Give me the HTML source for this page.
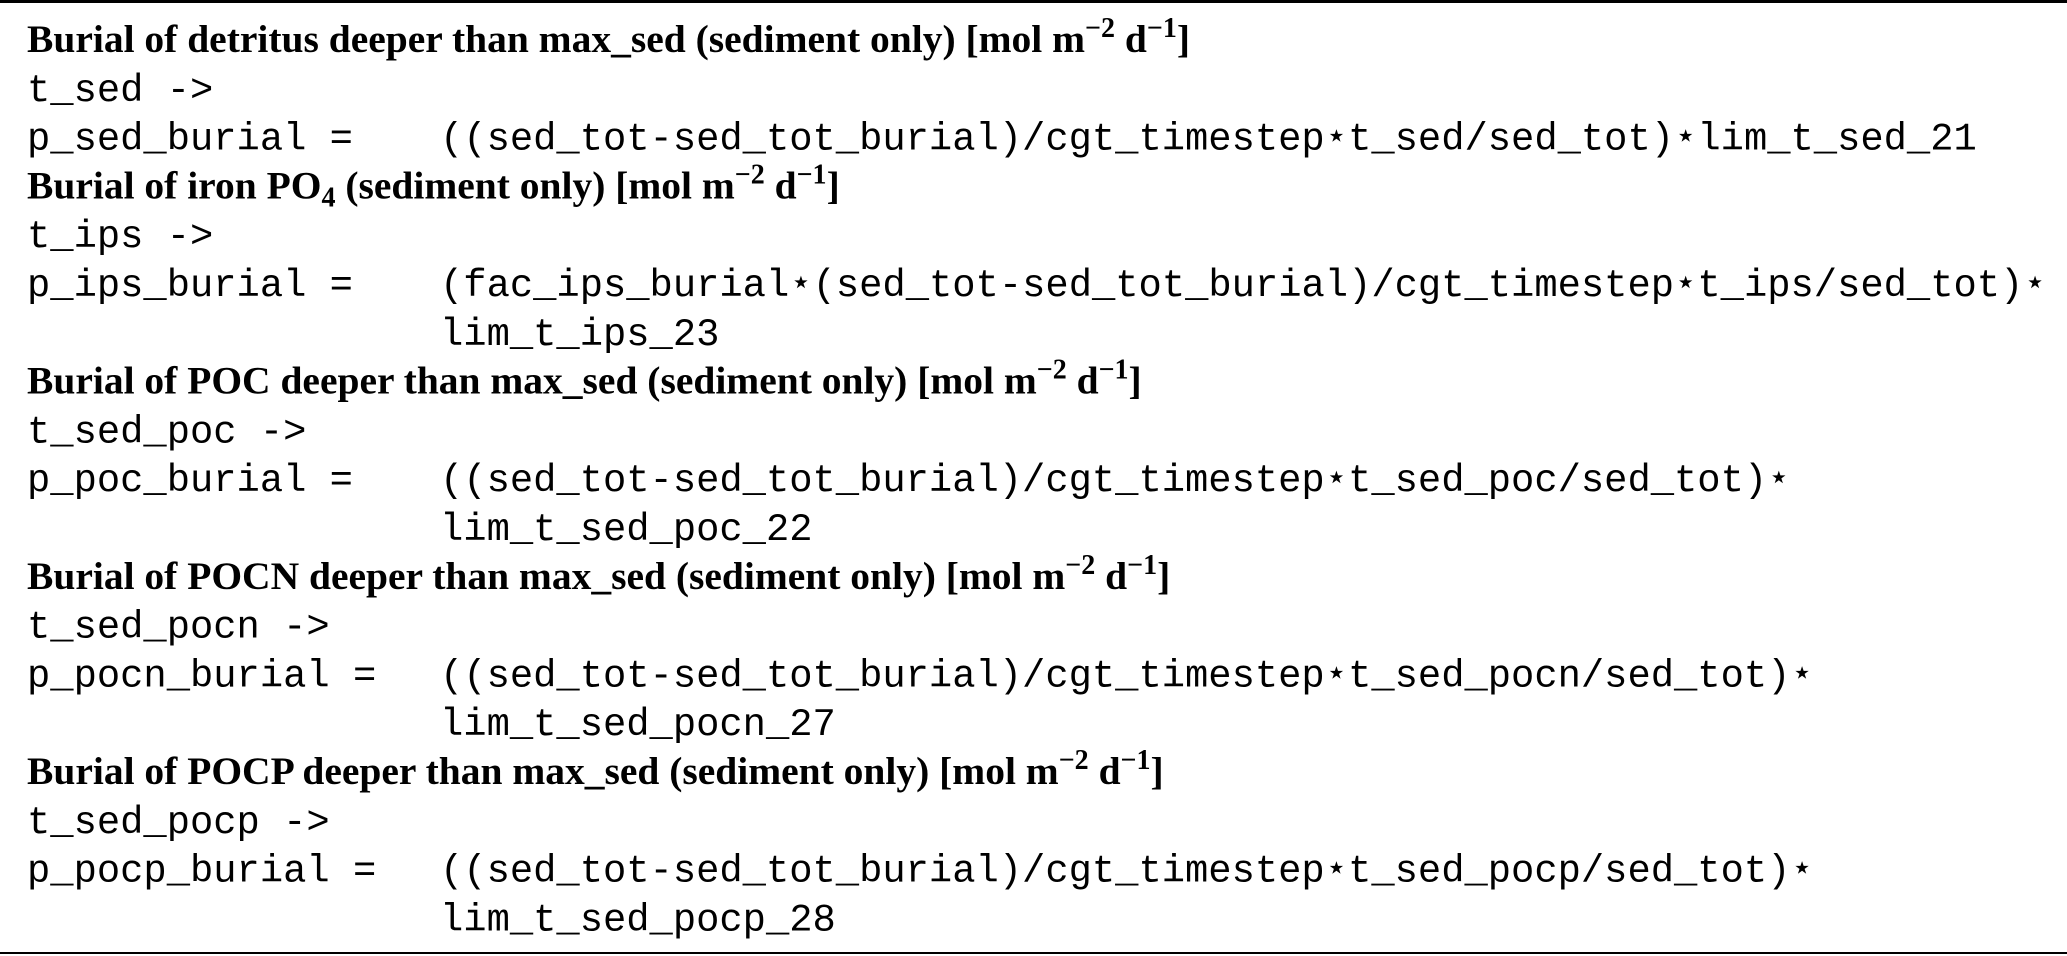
<!DOCTYPE html>
<html><head><meta charset="utf-8"><style>
html,body{margin:0;padding:0;background:#fff;}
svg{display:block;}
.h{font-family:"Liberation Serif",serif;font-weight:bold;font-size:39.5px;fill:#000;}
.m{font-family:"Liberation Mono","DejaVu Sans Mono",monospace;font-size:38.8px;fill:#000;}
</style></head><body>
<svg width="2067" height="956" viewBox="0 0 2067 956" xmlns="http://www.w3.org/2000/svg" xml:space="preserve">
<rect x="0" y="0" width="2067" height="3" fill="#000"/>
<rect x="0" y="952" width="2067" height="2" fill="#000"/>

<text class="h" x="27" y="52">Burial of detritus deeper than max_sed (sediment only) [mol m<tspan dy="-15" font-size="28">−2</tspan><tspan dy="15"> d</tspan><tspan dy="-15" font-size="28">−1</tspan><tspan dy="15">]</tspan></text>
<text class="m" x="27" y="100.8">t_sed -&gt;</text>
<text class="m" x="27" y="149.6">p_sed_burial =</text>
<text class="m" x="440" y="149.6">((sed_tot-sed_tot_burial)/cgt_timestep⋆t_sed/sed_tot)⋆lim_t_sed_21</text>

<text class="h" x="27" y="198.4">Burial of iron PO<tspan dy="8" font-size="28">4</tspan><tspan dy="-8"> (sediment only) [mol m</tspan><tspan dy="-15" font-size="28">−2</tspan><tspan dy="15"> d</tspan><tspan dy="-15" font-size="28">−1</tspan><tspan dy="15">]</tspan></text>
<text class="m" x="27" y="247.2">t_ips -&gt;</text>
<text class="m" x="27" y="296">p_ips_burial =</text>
<text class="m" x="440" y="296">(fac_ips_burial⋆(sed_tot-sed_tot_burial)/cgt_timestep⋆t_ips/sed_tot)⋆</text>
<text class="m" x="440" y="344.8">lim_t_ips_23</text>

<text class="h" x="27" y="393.6">Burial of POC deeper than max_sed (sediment only) [mol m<tspan dy="-15" font-size="28">−2</tspan><tspan dy="15"> d</tspan><tspan dy="-15" font-size="28">−1</tspan><tspan dy="15">]</tspan></text>
<text class="m" x="27" y="442.4">t_sed_poc -&gt;</text>
<text class="m" x="27" y="491.2">p_poc_burial =</text>
<text class="m" x="440" y="491.2">((sed_tot-sed_tot_burial)/cgt_timestep⋆t_sed_poc/sed_tot)⋆</text>
<text class="m" x="440" y="540">lim_t_sed_poc_22</text>

<text class="h" x="27" y="588.8">Burial of POCN deeper than max_sed (sediment only) [mol m<tspan dy="-15" font-size="28">−2</tspan><tspan dy="15"> d</tspan><tspan dy="-15" font-size="28">−1</tspan><tspan dy="15">]</tspan></text>
<text class="m" x="27" y="637.6">t_sed_pocn -&gt;</text>
<text class="m" x="27" y="686.4">p_pocn_burial =</text>
<text class="m" x="440" y="686.4">((sed_tot-sed_tot_burial)/cgt_timestep⋆t_sed_pocn/sed_tot)⋆</text>
<text class="m" x="440" y="735.2">lim_t_sed_pocn_27</text>

<text class="h" x="27" y="784">Burial of POCP deeper than max_sed (sediment only) [mol m<tspan dy="-15" font-size="28">−2</tspan><tspan dy="15"> d</tspan><tspan dy="-15" font-size="28">−1</tspan><tspan dy="15">]</tspan></text>
<text class="m" x="27" y="832.8">t_sed_pocp -&gt;</text>
<text class="m" x="27" y="881.6">p_pocp_burial =</text>
<text class="m" x="440" y="881.6">((sed_tot-sed_tot_burial)/cgt_timestep⋆t_sed_pocp/sed_tot)⋆</text>
<text class="m" x="440" y="930.4">lim_t_sed_pocp_28</text>
</svg>
</body></html>
